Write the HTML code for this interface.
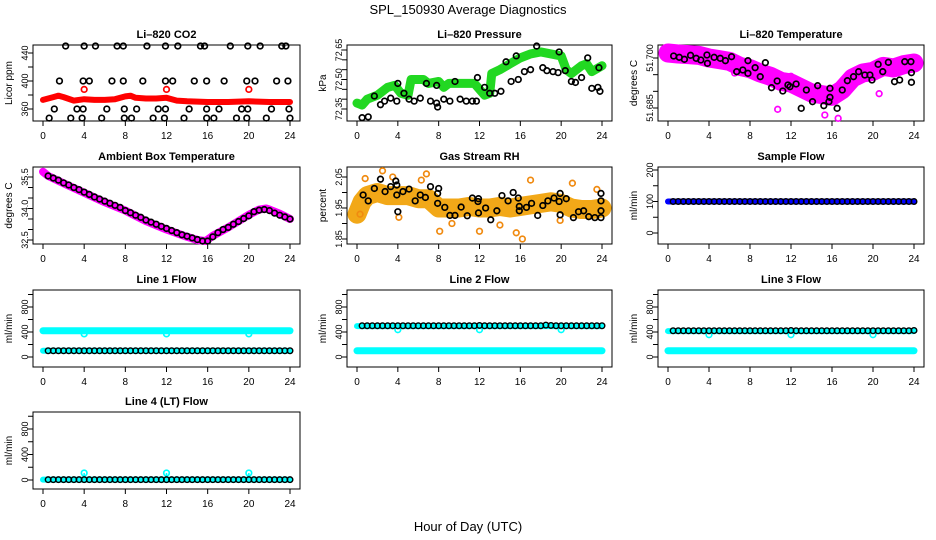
<!DOCTYPE html>
<html><head><meta charset="utf-8"><title>SPL_150930 Average Diagnostics</title>
<style>
html,body{margin:0;padding:0;background:#fff;}
svg{display:block;font-family:"Liberation Sans",Arial,sans-serif;}
</style></head>
<body>
<svg id="chart" width="936" height="540" viewBox="0 0 936 540" xmlns="http://www.w3.org/2000/svg">
<rect x="0" y="0" width="936" height="540" fill="#fff"/>
<text x="468" y="14" text-anchor="middle" font-size="13">SPL_150930  Average Diagnostics</text>
<text x="468" y="531" text-anchor="middle" font-size="13">Hour of Day (UTC)</text>
</svg>
<script>
// ---------- categories ----------
const hh = [0.5,1,1.5,2,2.5,3,3.5,4,4.5,5,5.5,6,6.5,7,7.5,8,8.5,9,9.5,10,10.5,11,11.5,12,12.5,13,13.5,14,14.5,15,15.5,16,16.5,17,17.5,18,18.5,19,19.5,20,20.5,21,21.5,22,22.5,23,23.5,24];
const xTicks = [0,4,8,12,16,20,24];

// ---------- CO2 ----------
const co2DenseX = [0,1,1.5,2,3,4,5,6,7,8,8.5,9,10,11,12,13,14,16,18,20,22,24];
const co2DenseY = [373,377,379,377,372,374,373,373,374,378,379,376,375,375,376,372,371,370,370,371,370,370];
const co2OutX = [4,12,20];
const co2OutY = [388,388,388];
const co2BlackX = [2.2,4.0,5.1,7.2,7.8,10.1,11.9,13.1,15.3,15.7,18.2,19.9,21.1,23.2,23.6,
 1.6,3.9,4.5,6.7,7.8,9.7,11.9,12.6,14.7,15.9,17.6,19.8,20.6,22.7,23.8,
 1.1,3.3,3.9,6.2,7.9,9.1,11.2,11.9,14.2,15.9,17.1,19.3,19.9,22.2,23.9,
 0.6,2.7,3.8,5.7,7.9,8.6,10.7,11.8,13.7,15.9,16.6,18.8,19.8,21.7,24.0];
const co2BlackY = [450,450,450,450,450,450,450,450,450,450,450,450,450,450,450,
 400,400,400,400,400,400,400,400,400,400,400,400,400,400,400,
 360,360,360,360,360,360,360,360,360,360,360,360,360,360,360,
 347,347,347,347,347,347,347,347,347,347,347,347,347,347,347];

// ---------- Pressure ----------
const presDenseX = [0,0.5,1,2,3,3.7,4.3,5,5.3,6.5,7,8,8.5,9,10,11.5,12,12.5,13,13.2,14,15,16,17,18,19,20,20.5,21,22,22.5,23,24];
const presDenseY = [72.38,72.37,72.40,72.42,72.46,72.47,72.43,72.42,72.50,72.50,72.48,72.49,72.46,72.48,72.48,72.48,72.45,72.42,72.43,72.53,72.55,72.58,72.61,72.63,72.64,72.63,72.62,72.55,72.53,72.57,72.58,72.54,72.57];
const presBlackX = [0.5,1.1,1.7,2.3,2.7,3.3,3.9,4.0,4.6,5.1,5.6,6.2,6.8,7.2,7.8,7.9,7.8,8.5,9.1,9.6,10.1,10.7,11.3,11.7,11.8,12.5,13.0,13.5,14.1,14.6,15.1,15.8,15.6,16.4,17.0,17.6,18.2,18.6,19.2,19.7,19.8,20.4,21.0,21.4,22.0,22.6,23.0,23.6,23.7,23.8];
const presBlackY = [72.306,72.31,72.416,72.372,72.39,72.405,72.39,72.48,72.43,72.40,72.39,72.405,72.48,72.39,72.38,72.36,72.47,72.40,72.39,72.49,72.40,72.39,72.39,72.39,72.51,72.46,72.43,72.43,72.44,72.59,72.49,72.50,72.62,72.54,72.55,72.67,72.56,72.545,72.54,72.535,72.64,72.545,72.49,72.485,72.51,72.61,72.455,72.46,72.56,72.44];

// ---------- Li-820 Temperature ----------
const tempDenseX = [0,1,2,3,4,5,6,7,8,9,10,11,12,13,14,15,16,17,18,19,20,21,22,23,24];
const tempDenseY = [51.7015,51.7012,51.701,51.7008,51.7,51.6995,51.699,51.6975,51.6968,51.6955,51.6945,51.693,51.6925,51.691,51.6895,51.689,51.6885,51.6905,51.694,51.6955,51.696,51.6975,51.697,51.698,51.6985];
const tempOutX = [10.7,15.3,16.6,20.6,6.5,12.0];
const tempOutY = [51.6846,51.6829,51.6819,51.6893,51.6955,51.6945];
const tempBlackX = [0.55,1.1,1.6,2.2,2.75,3.2,3.8,3.85,4.5,5.1,5.6,6.2,6.7,7.3,7.8,7.8,8.5,9.0,9.5,10.1,10.65,11.2,11.7,11.9,12.5,13.0,13.5,14.1,14.6,15.2,15.8,15.8,15.7,16.5,17.0,17.5,18.1,18.6,19.2,19.7,19.9,20.5,20.95,21.5,22.1,22.6,23.1,23.7,23.75,23.75];
const tempBlackY = [51.7006,51.7002,51.6996,51.7008,51.6999,51.6994,51.7009,51.6984,51.7002,51.6999,51.6992,51.7004,51.6959,51.6964,51.6992,51.6954,51.6971,51.6944,51.6986,51.6911,51.6931,51.6901,51.6919,51.6914,51.6922,51.6849,51.6904,51.6869,51.6917,51.6857,51.6909,51.6882,51.6869,51.6849,51.6904,51.6932,51.6944,51.6959,51.6949,51.6949,51.6934,51.6981,51.6959,51.6987,51.6929,51.6934,51.6989,51.6989,51.6956,51.6927];

// ---------- Ambient Box Temperature ----------
const ambDenseX = [0,0.5,2,4,6,8,10,12,14,15,15.8,16.5,18,19,20,21,21.7,22,23,24];
const ambDenseY = [35.75,35.55,35.2,34.75,34.3,33.9,33.4,33.0,32.65,32.5,32.45,32.7,33.1,33.4,33.7,33.95,34.0,33.95,33.75,33.5];
const ambBlackY = [35.55,35.45,35.35,35.22,35.12,35.0,34.9,34.78,34.67,34.55,34.45,34.35,34.25,34.15,34.05,33.9,33.8,33.68,33.58,33.45,33.35,33.25,33.15,33.05,32.95,32.85,32.75,32.68,32.6,32.52,32.45,32.45,32.65,32.85,33.0,33.1,33.25,33.38,33.52,33.65,33.85,33.92,33.95,33.9,33.78,33.68,33.6,33.5];

// ---------- Gas Stream RH ----------
const rhDenseX = [0,0.5,1,2,3,4,5,6,7,8,9,10,11,12,13,14,15,16,17,18,19,20,21,22,23,24];
const rhDenseY = [1.93,1.97,1.99,2.0,1.99,1.99,1.99,1.98,1.98,1.95,1.95,1.95,1.955,1.95,1.95,1.955,1.95,1.955,1.96,1.965,1.97,1.965,1.95,1.945,1.945,1.95];
const rhOutX = [2.5,3.5,6.8,17.0,21.1,23.5,15.6,16.2,14.0,8.1,12.0,6.3,0.8,0.3,4.1,9.3,19.9];
const rhOutY = [2.07,2.05,2.06,2.04,2.03,2.01,1.87,1.85,1.895,1.875,1.875,2.04,2.045,1.93,1.92,1.9,1.91];
const rhBlackX = [0.6,1.1,1.7,2.3,2.75,3.3,3.8,3.9,4.0,3.9,4.5,5.1,5.7,6.2,6.7,7.2,7.9,7.9,8.0,8.6,9.1,9.6,10.2,10.8,11.3,11.85,11.9,11.9,12.6,13.1,13.7,14.2,14.8,15.3,15.8,15.9,15.9,16.6,17.1,17.7,18.2,18.7,19.3,19.8,19.9,19.9,20.5,21.2,21.7,22.2,22.7,23.3,23.9,23.9,23.9,23.9];
const rhBlackY = [1.992,1.973,2.013,2.043,2.003,2.019,2.037,1.992,1.938,2.024,2.003,2.011,1.973,1.992,1.984,2.019,1.965,1.997,2.013,1.952,1.926,1.926,1.953,1.925,1.982,1.971,1.980,1.934,1.950,1.912,1.941,1.990,1.973,2.000,1.982,1.955,1.941,1.952,1.965,1.926,1.958,1.973,1.982,1.971,1.997,1.928,1.980,1.919,1.938,1.941,1.922,1.919,1.941,1.919,1.973,1.997];

// ---------- Flows ----------
const flowDenseX = [0,24];
const sampleDense = [100,100];
const sampleBlack = [100,100,100,100,100,100,100,100,100,100,100,100,100,100,100,100,100,100,100,100,100,100,100,100,100,100,100,100,100,100,100,100,100,100,100,100,100,100,100,100,100,100,100,100,100,100,100,100];
const line1Upper = [420,420];
const line1Lower = [100,100];
const line1Black = [100,100,100,100,100,100,100,100,100,100,100,100,100,100,100,100,100,100,100,100,100,100,100,100,100,100,100,100,100,100,100,100,100,100,100,100,100,100,100,100,100,100,100,100,100,100,100,100];
const line2Upper = [495,495];
const line2Lower = [100,100];
const line2Black = [500,500,500,500,500,500,500,500,500,500,500,500,500,500,500,500,500,500,500,500,500,500,500,505,500,500,500,500,500,500,500,500,500,500,500,500,510,505,500,500,500,500,500,500,500,500,500,500];
const line3Upper = [415,415];
const line3Lower = [100,100];
const line3Black = [420,420,420,420,420,420,420,420,420,420,420,420,420,420,420,420,420,420,420,420,420,420,420,425,420,420,420,420,420,420,420,420,420,420,420,420,420,420,420,420,420,420,420,420,420,420,420,425];
const line4Lower = [5,5];
const line4Black = [5,5,5,5,5,5,5,5,5,5,5,5,5,5,5,5,5,5,5,5,5,5,5,5,5,5,5,5,5,5,5,5,5,5,5,5,5,5,5,5,5,5,5,5,5,5,5,5];
const outHours = [4,12,20];
const line1Out = [370,370,370];
const line2Out = [437,437,437];
const line3Out = [357,357,357];
const line4Out = [110,110,110];

// ---------- drawing ----------
const NS = 'http://www.w3.org/2000/svg';
const svg = document.getElementById('chart');
const colL = [33,347,658], colR = [300,612,924];
const rowT = [45,167,290,412], rowB = [121,244,367,489];

function mk(tag, parent){ const e = document.createElementNS(NS, tag); parent.appendChild(e); return e; }

function makePanel(name, col, row, title, ylab, v1, p1, v2, p2, ticks, labels){
  const L = colL[col], R = colR[col], T = rowT[row], B = rowB[row];
  const g = mk('g', svg);
  
  
  const X = h => L + 10 + h * (R - L - 20) / 24;
  const Y = v => p1 + (v - v1) * (p2 - p1) / (v2 - v1);
  const box = mk('rect', g);
  
  
  box.setAttribute('x', L); box.setAttribute('y', T); box.setAttribute('width', R - L); box.setAttribute('height', B - T);
  box.setAttribute('fill', 'none'); box.setAttribute('stroke', '#000'); box.setAttribute('stroke-width', '1');
  const t = mk('text', g);
  
  
  t.setAttribute('x', (L + R) / 2); t.setAttribute('y', T - 7); t.setAttribute('text-anchor', 'middle');
  t.setAttribute('font-size', '11'); t.setAttribute('font-weight', 'bold');
  t.textContent = title;
  const yl = mk('text', g);
  
  
  yl.setAttribute('transform', 'translate(' + (L - 21) + ',' + (T + B) / 2 + ') rotate(-90)');
  yl.setAttribute('text-anchor', 'middle'); yl.setAttribute('font-size', '10');
  yl.textContent = ylab;
  xTicks.forEach(h => {
    const tk = mk('line', g);
    
    
    tk.setAttribute('x1', X(h)); tk.setAttribute('x2', X(h)); tk.setAttribute('y1', B); tk.setAttribute('y2', B + 5);
    tk.setAttribute('stroke', '#000');
    const tl = mk('text', g);
    
    
    tl.setAttribute('x', X(h)); tl.setAttribute('y', B + 18); tl.setAttribute('text-anchor', 'middle'); tl.setAttribute('font-size', '10');
    tl.textContent = h;
  });
  ticks.forEach(v => {
    const tk = mk('line', g);
    
    
    tk.setAttribute('x1', L - 5); tk.setAttribute('x2', L); tk.setAttribute('y1', Y(v)); tk.setAttribute('y2', Y(v));
    tk.setAttribute('stroke', '#000');
  });
  labels.forEach(v => {
    const tl = mk('text', g);
    
    
    tl.setAttribute('transform', 'translate(' + (L - 5) + ',' + Y(Number(v)) + ') rotate(-90)');
    tl.setAttribute('text-anchor', 'middle'); tl.setAttribute('font-size', '9');
    tl.textContent = String(v);
  });
  return {g, X, Y};
}

function dense(p, xs, ys, color, w, name){
  const pl = mk('polyline', p.g);
  
  
  pl.setAttribute('points', xs.map((x, i) => p.X(x) + ',' + p.Y(ys[i])).join(' '));
  pl.setAttribute('fill', 'none'); pl.setAttribute('stroke', color); pl.setAttribute('stroke-width', w);
  pl.setAttribute('stroke-linejoin', 'round'); pl.setAttribute('stroke-linecap', 'round');
}

function points(p, xs, ys, color, name, sw){
  const gg = mk('g', p.g);
  
  
  xs.forEach((x, i) => {
    const c = mk('circle', gg);
    
    
    c.setAttribute('cx', p.X(x)); c.setAttribute('cy', p.Y(ys[i])); c.setAttribute('r', 2.8);
    c.setAttribute('fill', 'none'); c.setAttribute('stroke', color); c.setAttribute('stroke-width', sw || 1.7);
  });
}

// CO2
let p = makePanel('co2-panel', 0, 0, 'Li\u2013820 CO2', 'Licor ppm', 440, 53, 360, 109, [360,380,400,420,440], ['360','400','440']);
dense(p, co2DenseX, co2DenseY, '#ff0000', 6, 'co2-dense-series');
points(p, co2OutX, co2OutY, '#ff0000', 'co2-outliers');
points(p, co2BlackX, co2BlackY, '#000', 'co2-black-series');

// Pressure
p = makePanel('pressure-panel', 1, 0, 'Li\u2013820 Pressure', 'kPa', 72.65, 50, 72.35, 109, [72.35,72.40,72.45,72.50,72.55,72.60,72.65], ['72.35','72.50','72.65']);
dense(p, presDenseX, presDenseY, '#22d822', 9, 'pressure-dense-series');
points(p, presBlackX, presBlackY, '#000', 'pressure-black-series');

// Li-820 Temperature
p = makePanel('li820-temperature-panel', 2, 0, 'Li\u2013820 Temperature', 'degrees C', 51.700, 58, 51.685, 108, [51.685,51.690,51.695,51.700], ['51.685','51.700']);
dense(p, tempDenseX, tempDenseY, '#ff00ff', 19, 'temperature-dense-series');
points(p, tempOutX, tempOutY, '#ff00ff', 'temperature-outliers');
points(p, tempBlackX, tempBlackY, '#000', 'temperature-black-series');

// Ambient
p = makePanel('ambient-temperature-panel', 0, 1, 'Ambient Box Temperature', 'degrees C', 35.5, 177, 32.5, 240, [32.5,33,33.5,34,34.5,35,35.5], ['32.5','34.0','35.5']);
dense(p, ambDenseX, ambDenseY, '#ff00ff', 8, 'ambient-dense-series');
points(p, hh, ambBlackY, '#000', 'ambient-black-series');

// RH
p = makePanel('rh-panel', 1, 1, 'Gas Stream RH', 'percent', 2.05, 177, 1.85, 239, [1.85,1.90,1.95,2.00,2.05], ['1.85','1.95','2.05']);
dense(p, rhDenseX, rhDenseY, '#f2a818', 19, 'rh-dense-series');
points(p, rhOutX, rhOutY, '#f08a10', 'rh-outliers');
points(p, rhBlackX, rhBlackY, '#000', 'rh-black-series');

// Sample flow
p = makePanel('sample-flow-panel', 2, 1, 'Sample Flow', 'ml/min', 200, 170, 0, 233, [0,50,100,150,200], ['0','100','200']);
dense(p, flowDenseX, sampleDense, '#0000ff', 6, 'sample-flow-dense-series');
points(p, hh, sampleBlack, '#000', 'sample-flow-black-series', 1.4);

// Line flows
const flowTicks = [0,200,400,600,800,1000], flowLabels = ['0','400','800'];
p = makePanel('line1-flow-panel', 0, 2, 'Line 1 Flow', 'ml/min', 800, 307, 0, 357, flowTicks, flowLabels);
dense(p, flowDenseX, line1Upper, '#00ffff', 7, 'line1-upper-series');
dense(p, flowDenseX, line1Lower, '#00ffff', 6, 'line1-lower-series');
points(p, outHours, line1Out, '#00ffff', 'line1-outliers');
points(p, hh, line1Black, '#000', 'line1-black-series', 1.4);

p = makePanel('line2-flow-panel', 1, 2, 'Line 2 Flow', 'ml/min', 800, 307, 0, 357, flowTicks, flowLabels);
dense(p, flowDenseX, line2Upper, '#00ffff', 6, 'line2-upper-series');
dense(p, flowDenseX, line2Lower, '#00ffff', 7, 'line2-lower-series');
points(p, outHours, line2Out, '#00ffff', 'line2-outliers');
points(p, hh, line2Black, '#000', 'line2-black-series', 1.4);

p = makePanel('line3-flow-panel', 2, 2, 'Line 3 Flow', 'ml/min', 800, 307, 0, 357, flowTicks, flowLabels);
dense(p, flowDenseX, line3Upper, '#00ffff', 6, 'line3-upper-series');
dense(p, flowDenseX, line3Lower, '#00ffff', 7, 'line3-lower-series');
points(p, outHours, line3Out, '#00ffff', 'line3-outliers');
points(p, hh, line3Black, '#000', 'line3-black-series', 1.4);

p = makePanel('line4-flow-panel', 0, 3, 'Line 4 (LT) Flow', 'ml/min', 800, 429, 0, 480, flowTicks, flowLabels);
dense(p, flowDenseX, line4Lower, '#00ffff', 6, 'line4-dense-series');
outHours.forEach((h, i) => {
  const ln = mk('line', p.g);
  
  
  ln.setAttribute('x1', p.X(h)); ln.setAttribute('x2', p.X(h)); ln.setAttribute('y1', p.Y(line4Out[i])); ln.setAttribute('y2', p.Y(0));
  ln.setAttribute('stroke', '#00ffff'); ln.setAttribute('stroke-width', '1.5');
});
points(p, outHours, line4Out, '#00ffff', 'line4-outliers');
points(p, hh, line4Black, '#000', 'line4-black-series', 1.4);
</script>
</body></html>
